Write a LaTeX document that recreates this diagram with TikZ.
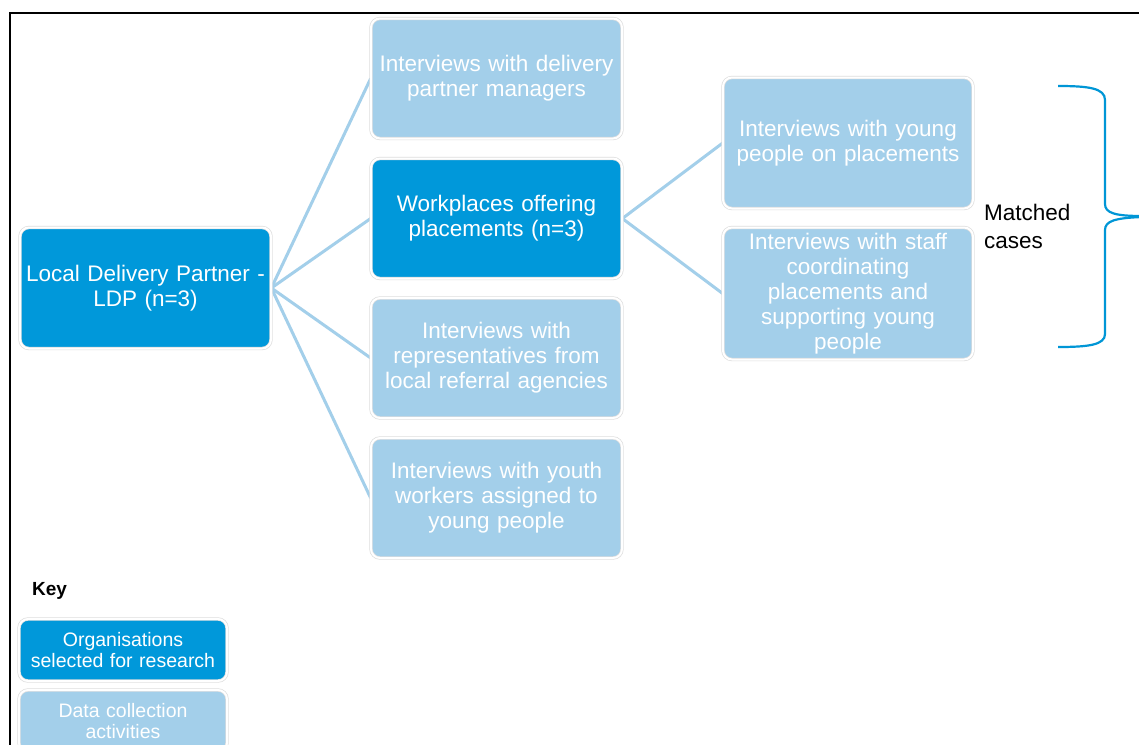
\documentclass[tikz,border=0pt]{standalone}
\usepackage{fontspec}
\setmainfont{Liberation Sans}
\usetikzlibrary{backgrounds}
\definecolor{dkblue}{RGB}{0,152,218}
\definecolor{ltblue}{RGB}{163,207,234}
\definecolor{bracecol}{RGB}{0,150,214}
\begin{document}
\begin{tikzpicture}[x=1pt,y=-1pt,
 box/.style={rounded corners=9pt, draw=black!13, double=white, double distance=2pt, line width=0.7pt, text=white, align=center, inner sep=0pt, font=\fontsize{22.5}{25}\selectfont},
 dark/.style={box, fill=dkblue},
 light/.style={box, fill=ltblue},
 colA/.style={minimum width=251pt, minimum height=120pt, text width=245pt},
 colB/.style={minimum width=250pt, text width=240pt},
 keybox/.style={minimum width=208pt, text width=204pt, font=\fontsize{19.5}{21}\selectfont},
 link/.style={draw=ltblue, line width=3pt},
 brace/.style={draw=bracecol, line width=2.2pt}]
\useasboundingbox (0,0) rectangle (1139,744);
\clip (0,0) rectangle (1139,744);
\begin{scope}[on background layer]
\fill[white] (0,0) rectangle (1139,744);
\end{scope}
% frame
\draw[line width=2pt] (10,780) -- (10,13) -- (1160,13);
% main nodes
\node[dark, minimum width=251pt, minimum height=121pt, text width=245pt] (ldp) at (145.5,288) {Local Delivery Partner -\\LDP (n=3)};
\node[light, colA] (b1) at (496.5,78.5) {Interviews with delivery\\partner managers};
\node[dark, colA] (b2) at (496.5,218.5) {Workplaces offering\\placements (n=3)};
\node[light, colA] (b3) at (496.5,358) {Interviews with\\representatives from\\local referral agencies};
\node[light, colA] (b4) at (496.5,498) {Interviews with youth\\workers assigned to\\young people};
\node[light, colB, minimum height=131pt] (c1) at (848,143) {Interviews with young\\people on placements};
\node[light, colB, minimum height=132pt] (c2) at (848,293.5) {Interviews with staff\\coordinating\\placements and\\supporting young\\people};
\begin{scope}[on background layer]
\draw[link] (ldp.east) -- (b1.west);
\draw[link] (ldp.east) -- (b2.west);
\draw[link] (ldp.east) -- (b3.west);
\draw[link] (ldp.east) -- (b4.west);
\draw[link] (b2.east) -- (c1.west);
\draw[link] (b2.east) -- (c2.west);
\end{scope}
% matched cases
\node[anchor=west, align=left, inner sep=0pt, font=\fontsize{22.5}{28}\selectfont] (mc) at (984,226) {Matched\\cases};
\draw[brace] (1058,86) .. controls (1088,86) and (1105,88) .. (1105,100) -- (1105,204)
  .. controls (1105,213) and (1115,216) .. (1142,216);
\draw[brace] (1142,217) .. controls (1115,218) and (1105,221) .. (1105,230) -- (1105,334)
  .. controls (1105,345) and (1088,347) .. (1058,347);
% key
\node[anchor=west, inner sep=0pt, font=\bfseries\fontsize{19}{22}\selectfont] (key) at (32,591) {Key};
\node[dark, keybox, minimum height=62pt] (k1) at (123,650) {Organisations\\selected for research};
\node[light, keybox, minimum height=62pt] (k2) at (123,721) {Data collection\\activities};
\end{tikzpicture}
\end{document}
